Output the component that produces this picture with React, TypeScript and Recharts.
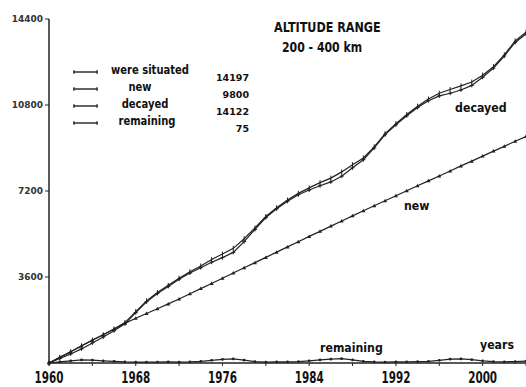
import React from "react";
import { LineChart, Line, XAxis, YAxis } from "recharts";

const years = [
  1960, 1961, 1962, 1963, 1964, 1965, 1966, 1967, 1968, 1969,
  1970, 1971, 1972, 1973, 1974, 1975, 1976, 1977, 1978, 1979,
  1980, 1981, 1982, 1983, 1984, 1985, 1986, 1987, 1988, 1989,
  1990, 1991, 1992, 1993, 1994, 1995, 1996, 1997, 1998, 1999,
  2000, 2001, 2002, 2003, 2004,
];

const situated = [
  0, 240, 470, 720, 960, 1180, 1420, 1690, 2150, 2600,
  2950, 3250, 3550, 3820, 4060, 4330, 4560, 4800, 5200, 5650,
  6130, 6500, 6820, 7100, 7330, 7550, 7740, 8000, 8300, 8580,
  9050, 9600, 10020, 10400, 10750, 11050, 11290, 11450, 11600, 11760,
  12050, 12400, 12900, 13480, 13850,
];

const fresh = [
  0, 235, 470, 715, 955, 1185, 1425, 1660, 1870, 2070,
  2270, 2475, 2680, 2900, 3115, 3330, 3550, 3770, 3985, 4200,
  4420, 4640, 4860, 5075, 5300, 5510, 5730, 5945, 6160, 6370,
  6580, 6790, 7000, 7210, 7420, 7625, 7830, 8040, 8250, 8450,
  8660, 8870, 9070, 9280, 9480,
];

const decayed = [
  0, 190, 380, 590, 840, 1090, 1350, 1640, 2110, 2565,
  2910, 3205, 3510, 3770, 3990, 4220, 4410, 4630, 5080, 5590,
  6090, 6455, 6770, 7040, 7240, 7420, 7580, 7820, 8170, 8510,
  9005, 9560, 9975, 10350, 10695, 10980, 11180, 11290, 11430, 11620,
  11960, 12345, 12850, 13420, 13775,
];

const remaining = [
  0, 50, 90, 130, 120, 90, 70, 50, 40, 35,
  40, 45, 40, 50, 70, 110, 150, 170, 120, 60,
  40, 45, 50, 60, 90, 130, 160, 180, 130, 70,
  45, 40, 45, 50, 55, 70, 110, 160, 170, 140,
  90, 55, 50, 60, 75,
];

const yTicks = [3600, 7200, 10800, 14400];
const xTicks = [1960, 1964, 1968, 1972, 1976, 1980, 1984, 1988, 1992, 1996, 2000, 2004];

const legendRows = [
  { name: "were situated", total: "14197", cx: 150 },
  { name: "new", total: "9800", cx: 140 },
  { name: "decayed", total: "14122", cx: 145 },
  { name: "remaining", total: "75", cx: 147 },
];

const data = years.map((y, i) => ({
  year: y,
  situated: situated[i],
  fresh: fresh[i],
  decayed: decayed[i],
  remaining: remaining[i],
}));

const INK = "#222";
const FONT = "'DejaVu Sans', sans-serif";

// squeezed bold text, stands in for the condensed face of the scan
const T = ({ x, y, size, sx, anchor, children }: any) => (
  <text
    transform={`translate(${x},${y}) scale(${sx},1)`}
    textAnchor={anchor || "start"}
    fontSize={size}
    fontFamily={FONT}
    fontWeight="bold"
    fill="#111"
  >
    {children}
  </text>
);

const TickDot = (p: any) => (
  <path key={`s${p.index}`} d={`M${p.cx},${p.cy - 2.5}V${p.cy + 2.5}`} stroke={INK} strokeWidth={1} />
);
const TriDot = (p: any) => (
  <path
    key={`n${p.index}`}
    d={`M${p.cx - 2},${p.cy + 1.5}L${p.cx + 2},${p.cy + 1.5}L${p.cx},${p.cy - 2}Z`}
    fill={INK}
  />
);
const PlusDot = (p: any) => (
  <path
    key={`d${p.index}`}
    d={`M${p.cx - 2},${p.cy}H${p.cx + 2}M${p.cx},${p.cy - 2}V${p.cy + 2}`}
    stroke={INK}
    strokeWidth={1}
  />
);
const RoundDot = (p: any) => <circle key={`r${p.index}`} cx={p.cx} cy={p.cy} r={1.4} fill={INK} />;

const XTick = (p: any) => {
  const v = p.payload.value;
  if ((v - 1960) % 8 !== 0) return <g />;
  return (
    <T x={p.x} y={p.y + 15} size={16} sx={0.65} anchor="middle">
      {v}
    </T>
  );
};

export default function App() {
  return (
    <div style={{ position: "absolute", left: 0, top: 0, width: 526, height: 387, background: "#fff" }}>
      <LineChart width={526} height={387} data={data} margin={{ top: 19, right: 0, bottom: 0, left: 0 }}>
        <XAxis
          dataKey="year"
          type="number"
          domain={[1960, 2004]}
          ticks={xTicks}
          interval={0}
          height={24}
          tick={<XTick />}
          tickSize={3}
          axisLine={{ stroke: INK, strokeWidth: 1.5 }}
          tickLine={{ stroke: INK }}
        />
        <YAxis
          type="number"
          domain={[0, 14400]}
          ticks={yTicks}
          interval={0}
          width={49}
          tickSize={4}
          tickMargin={2}
          axisLine={{ stroke: INK, strokeWidth: 1.5 }}
          tickLine={{ stroke: INK }}
          tick={{ fontSize: 9, fontFamily: FONT, fontWeight: "bold", fill: "#333" }}
        />
        <Line dataKey="fresh" stroke={INK} strokeWidth={1.2} dot={TriDot} isAnimationActive={false} />
        <Line dataKey="remaining" stroke={INK} strokeWidth={1.2} dot={RoundDot} isAnimationActive={false} />
        <Line dataKey="decayed" stroke={INK} strokeWidth={1.2} dot={PlusDot} isAnimationActive={false} />
        <Line dataKey="situated" stroke={INK} strokeWidth={1.2} dot={TickDot} isAnimationActive={false} />
      </LineChart>
      <svg width={526} height={387} style={{ position: "absolute", left: 0, top: 0, pointerEvents: "none" }}>
        <T x={274} y={32} size={14} sx={0.8}>ALTITUDE RANGE</T>
        <T x={282} y={52} size={14} sx={0.78}>200 - 400 km</T>
        {legendRows.map((r, i) => {
          const y = 72 + i * 17;
          return (
            <g key={r.name}>
              <line x1={73} x2={98} y1={y} y2={y} stroke={INK} strokeWidth={1.4} />
              <line x1={74} x2={74} y1={y - 2} y2={y + 2} stroke={INK} />
              <line x1={97} x2={97} y1={y - 2} y2={y + 2} stroke={INK} />
              <T x={r.cx} y={y + 2} size={12.5} sx={0.8} anchor="middle">
                {r.name}
              </T>
              <T x={249} y={y + 9} size={9.5} sx={1} anchor="end">
                {r.total}
              </T>
            </g>
          );
        })}
        <T x={455} y={112} size={13} sx={0.85}>decayed</T>
        <T x={404} y={210} size={12.5} sx={0.88}>new</T>
        <T x={320} y={352} size={12.5} sx={0.88}>remaining</T>
        <T x={480} y={349} size={12.5} sx={0.88}>years</T>
      </svg>
    </div>
  );
}
